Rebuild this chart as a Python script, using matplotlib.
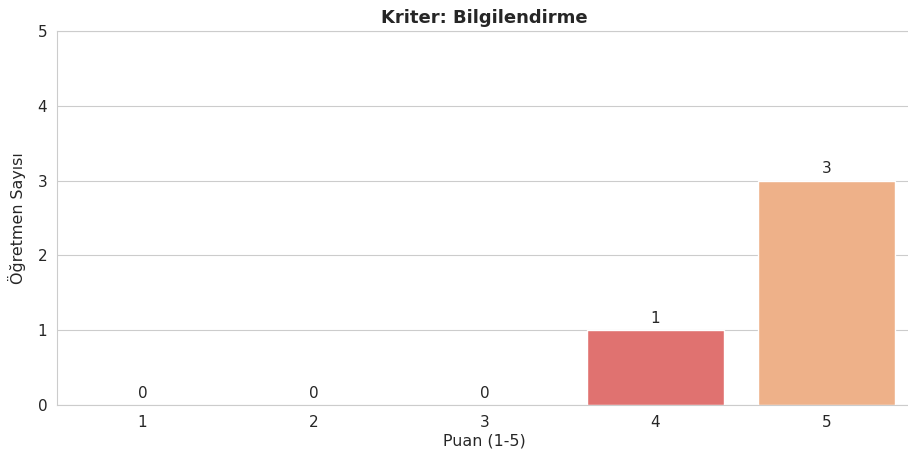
import matplotlib
matplotlib.use("Agg")
import matplotlib.pyplot as plt
import seaborn as sns

scores = ["1", "2", "3", "4", "5"]
counts = [0, 0, 0, 1, 3]
colors = ["#3b1c4f", "#8a2a6b", "#c53f5c", "#e07270", "#eeb189"]

sns.set_style("whitegrid")
plt.rcParams["font.family"] = ["DejaVu Sans"]

fig = plt.figure(figsize=(9.08, 4.57), dpi=100)
ax = fig.add_axes([57 / 908, 52 / 457, 855 / 908, 374 / 457])

bars = ax.bar(range(len(scores)), counts, width=0.8, color=colors)
ax.bar_label(bars, labels=[str(c) for c in counts], padding=3, fontsize=11, color="#262626")

ax.set_xlim(-0.5, len(scores) - 0.5)
ax.set_ylim(0, 5)
ax.set_xticks(range(len(scores)))
ax.set_xticklabels(scores)
ax.set_yticks(range(0, 6))
ax.tick_params(labelsize=11, colors="#262626")
ax.xaxis.grid(False)
ax.set_xlabel("Puan (1-5)", fontsize=11.4, color="#262626", labelpad=3)
ax.set_ylabel("Öğretmen Sayısı", fontsize=11.4, color="#262626", labelpad=8)
ax.set_title("Kriter: Bilgilendirme", fontsize=13, fontweight="bold", pad=6)

fig.savefig("out.png", dpi=100)
